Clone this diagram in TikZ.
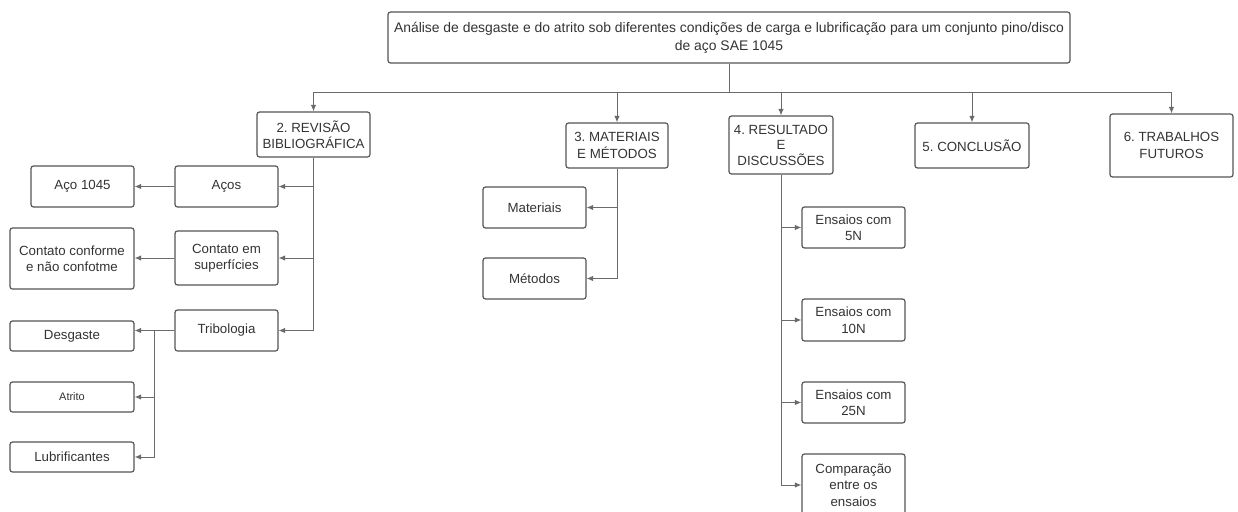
\documentclass[tikz,border=0pt]{standalone}
\usepackage{fontspec}
\setmainfont{Liberation Sans}
\usetikzlibrary{arrows.meta,calc}
\definecolor{linegray}{HTML}{6A6A6A}
\definecolor{boxgray}{HTML}{555555}
\definecolor{txtgray}{HTML}{333333}
\frenchspacing

\begin{document}
\begin{tikzpicture}[x=1pt,y=-1pt,
    box/.style={draw=boxgray,line width=1.2pt,rounded corners=2.5pt,align=center,
      text=txtgray,font=\fontsize{13.3}{16.5}\selectfont,inner sep=2pt},
    conn/.style={draw=linegray,line width=1pt,-{Latex[length=6.5pt,width=5.5pt]}}]

	\useasboundingbox (0,0) rectangle (1238,511);

	% titulo e capitulos
	\node[box,minimum width=682pt,minimum height=51pt,font=\fontsize{13.9}{18}\selectfont] (titulo) at (729,37.5)
        {Análise de desgaste e do atrito sob diferentes condições de carga e lubrificação para um conjunto pino/disco\\de aço SAE 1045};
	\node[box,minimum width=113pt,minimum height=45pt] (revisao) at (313.5,134.5) {2. REVISÃO\\BIBLIOGRÁFICA};
	\node[box,minimum width=102pt,minimum height=45pt] (matmet) at (617,145.5) {3. MATERIAIS\\E MÉTODOS};
	\node[box,minimum width=104pt,minimum height=58pt,font=\fontsize{13.3}{15.5}\selectfont] (result) at (781,145) {4. RESULTADO\\E\\DISCUSSÕES};
	\node[box,minimum width=114pt,minimum height=45pt] (conclusao) at (972,145.5) {5. CONCLUSÃO};
	\node[box,minimum width=123pt,minimum height=63pt] (futuros) at (1171.5,145.5) {6. TRABALHOS\\FUTUROS};

	% revisao
	\node[box,minimum width=103pt,minimum height=41pt] (acos) at (226.5,186.5) {Aços};
	\node[box,minimum width=103pt,minimum height=54pt] (contato) at (226.5,258) {Contato em\\superfícies};
	\node[box,minimum width=103pt,minimum height=41pt] (tribo) at (226.5,330.5) {Tribologia};
	\node[box,minimum width=103pt,minimum height=41pt] (aco1045) at (82.5,186.5) {Aço 1045};
	\node[box,minimum width=124pt,minimum height=61pt] (conforme) at (72,258.5) {Contato conforme\\e não confotme};
	\node[box,minimum width=124pt,minimum height=30pt] (desgaste) at (72,336) {Desgaste};
	\node[box,minimum width=124pt,minimum height=30pt,font=\fontsize{11}{13}\selectfont] (atrito) at (72,397) {Atrito};
	\node[box,minimum width=124pt,minimum height=30pt] (lubri) at (72,457) {Lubrificantes};

	% materiais e metodos
	\node[box,minimum width=103pt,minimum height=41pt] (materiais) at (534.5,207.5) {Materiais};
	\node[box,minimum width=103pt,minimum height=41pt] (metodos) at (534.5,278.5) {Métodos};

	% resultados
	\node[box,minimum width=103pt,minimum height=41pt] (e5) at (853.5,227.5) {Ensaios com\\5N};
	\node[box,minimum width=103pt,minimum height=42pt] (e10) at (853.5,320) {Ensaios com\\10N};
	\node[box,minimum width=103pt,minimum height=41pt] (e25) at (853.5,402.5) {Ensaios com\\25N};
	\node[box,minimum width=103pt,minimum height=62pt] (compara) at (853.5,485) {Comparação\\entre os\\ensaios};

	% ligacoes
	\coordinate (bus) at ($(titulo.south)+(0,29)$);
	\draw[draw=linegray,line width=1pt] (titulo.south) -- (bus);
	\foreach \cap in {revisao,matmet,result,conclusao,futuros}
        \draw[conn] (bus) -| (\cap.north);

	\draw[conn] (revisao.south) |- (acos.east); \draw[conn] (revisao.south)
        |- (contato.east); \draw[conn] (revisao.south) |- (tribo.east);
	\draw[conn] (acos.west) -- (aco1045.east); \draw[conn] (contato.west)
        -- (contato.west -| conforme.east); \draw[conn] (tribo.west) -- (tribo.west -| desgaste.east);
	\coordinate (tb) at ($(tribo.west)!0.5!(tribo.west -| desgaste.east)$);
	\draw[conn] (tb) |- (atrito.east); \draw[conn] (tb) |- (lubri.east);

	\draw[conn] (matmet.south) |- (materiais.east); \draw[conn] (matmet.south)
        |- (metodos.east);

	\foreach \ens in {e5,e10,e25,compara}
        \draw[conn] (result.south) |- (\ens.west);
\end{tikzpicture}
\end{document}
